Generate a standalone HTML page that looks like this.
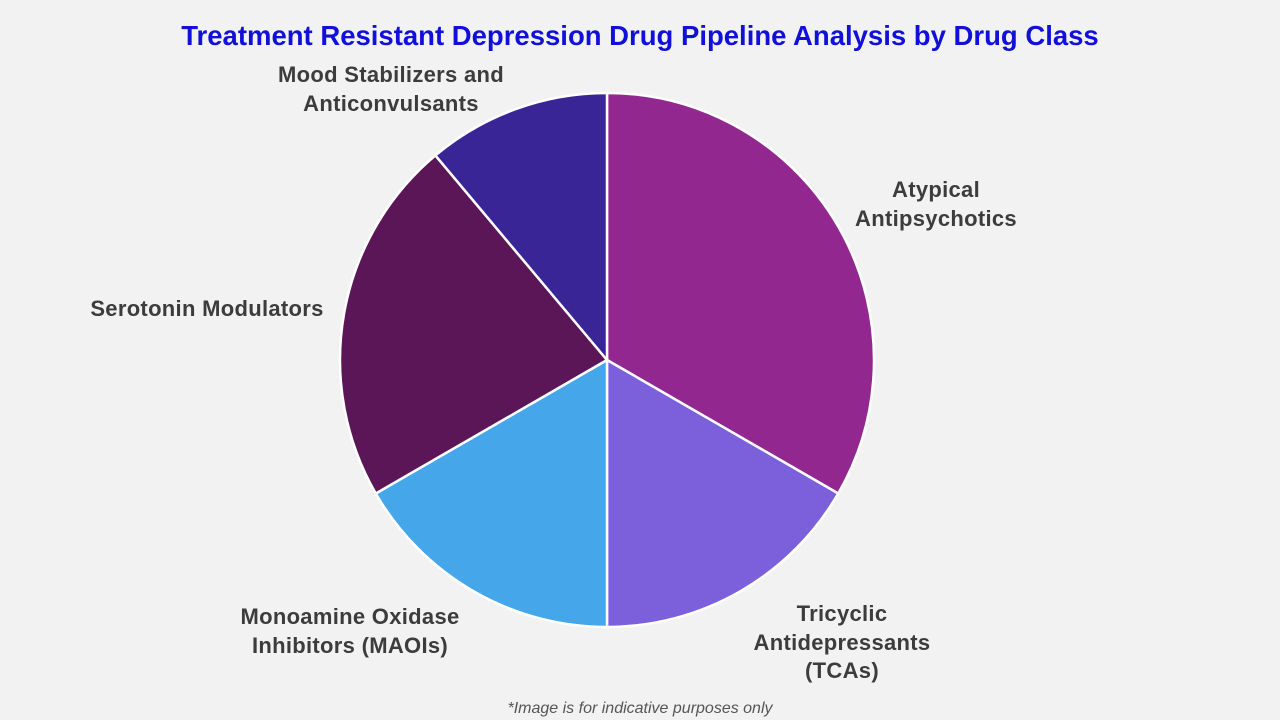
<!DOCTYPE html>
<html><head><meta charset="utf-8"><style>
html,body{margin:0;padding:0;background:#f2f2f2;}
svg{display:block;font-family:"Liberation Sans",Arial,sans-serif;}
</style></head><body>
<svg width="1280" height="720" viewBox="0 0 1280 720">
<rect width="1280" height="720" fill="#f2f2f2"/>
<text x="640" y="45" text-anchor="middle" font-size="27.5" font-weight="bold" fill="#1010d8">Treatment Resistant Depression Drug Pipeline Analysis by Drug Class</text>
<g id="slices"></g>
<g font-size="22" font-weight="bold" fill="#3c3c3c" text-anchor="middle" letter-spacing="0.3">
<text x="391" y="82"><tspan x="391">Mood Stabilizers and</tspan><tspan x="391" dy="29">Anticonvulsants</tspan></text>
<text x="936" y="197"><tspan x="936">Atypical</tspan><tspan x="936" dy="29">Antipsychotics</tspan></text>
<text x="207" y="316">Serotonin Modulators</text>
<text x="350" y="624"><tspan x="350">Monoamine Oxidase</tspan><tspan x="350" dy="29">Inhibitors (MAOIs)</tspan></text>
<text x="842" y="621"><tspan x="842">Tricyclic</tspan><tspan x="842" dy="29">Antidepressants</tspan><tspan x="842" dy="28">(TCAs)</tspan></text>
</g>
<text x="640" y="713" text-anchor="middle" font-size="16" font-style="italic" fill="#555">*Image is for indicative purposes only</text>
</svg>
<script>
const categories = ["Atypical Antipsychotics","Tricyclic Antidepressants (TCAs)","Monoamine Oxidase Inhibitors (MAOIs)","Serotonin Modulators","Mood Stabilizers and Anticonvulsants"];
const values = [30,15,15,20,10];
const colors = ["#91278f","#7b5fdb","#46a6ea","#5a1656","#3a2596"];
const cx=607, cy=360, r=267;
const total = values.reduce((a,b)=>a+b,0);
const g=document.getElementById('slices');
let a0=0;
function pt(a){return [cx+r*Math.sin(a), cy-r*Math.cos(a)];}
values.forEach((v,i)=>{
  const a1=a0+v/total*2*Math.PI;
  const p0=pt(a0), p1=pt(a1);
  const large=(a1-a0)>Math.PI?1:0;
  const p=document.createElementNS('http://www.w3.org/2000/svg','path');
  p.setAttribute('d',`M${cx},${cy} L${p0[0]},${p0[1]} A${r},${r} 0 ${large} 1 ${p1[0]},${p1[1]} Z`);
  p.setAttribute('fill',colors[i]);
  p.setAttribute('stroke','#ffffff');
  p.setAttribute('stroke-width','2.5');
  
  
  g.appendChild(p);
  a0=a1;
});
</script>
</body></html>
